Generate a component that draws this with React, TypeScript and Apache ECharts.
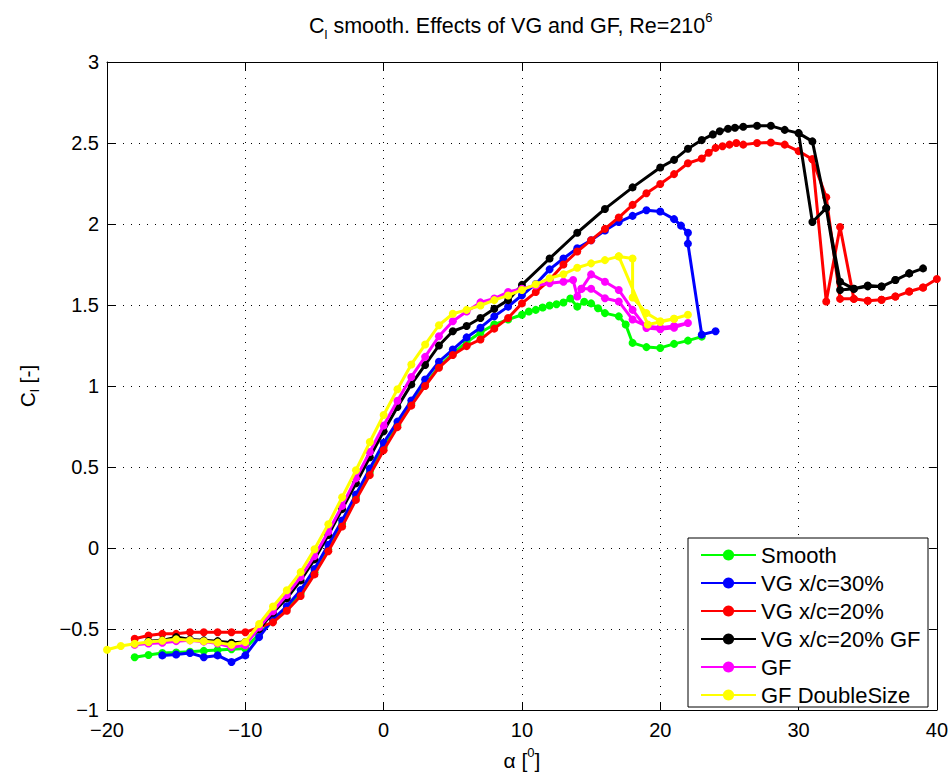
import React, { useEffect, useRef } from "react";
import * as echarts from "echarts";

const FF = "'Liberation Sans', Arial, Helvetica, sans-serif";

const seriesNames = ["Smooth", "VG x/c=30%", "VG x/c=20%", "VG x/c=20% GF", "GF", "GF DoubleSize"];
const seriesColors = ["#00ff00", "#0000ff", "#ff0000", "#000000", "#ff00ff", "#ffff00"];

const xTicks = { min: -20, max: 40, interval: 10 };
const yTicks = { min: -1, max: 3, interval: 0.5 };

const smooth: number[][] = [
  [-18, -0.674], [-17, -0.66], [-16, -0.648], [-15, -0.645], [-14, -0.64], [-13, -0.635], [-12, -0.63], [-11, -0.625], [-10, -0.62],
  [-9, -0.53], [-8, -0.45], [-7, -0.37], [-6, -0.28], [-5, -0.15], [-4, -0.01], [-3, 0.15], [-2, 0.31], [-1, 0.47], [0, 0.62],
  [1, 0.76], [2, 0.89], [3, 1.01], [4, 1.12], [5, 1.2], [6, 1.27], [7, 1.33], [8, 1.38], [9, 1.41], [10, 1.44], [10.5, 1.46],
  [11, 1.47], [11.5, 1.485], [12, 1.497], [12.5, 1.505], [13, 1.515], [13.5, 1.54], [14, 1.49], [14.5, 1.52], [15, 1.51],
  [15.5, 1.48], [16, 1.45], [17, 1.43], [17.5, 1.38], [18, 1.266], [19, 1.24], [20, 1.235], [21, 1.26], [22, 1.28], [23, 1.305],
];

const vg30: number[][] = [
  [-16, -0.663], [-15, -0.657], [-14, -0.648], [-13, -0.674], [-12, -0.663], [-11, -0.704], [-10, -0.663], [-9, -0.55],
  [-8, -0.44], [-7, -0.36], [-6, -0.26], [-5, -0.13], [-4, 0.02], [-3, 0.17], [-2, 0.33], [-1, 0.49], [0, 0.65], [1, 0.78],
  [2, 0.91], [3, 1.04], [4, 1.15], [5, 1.225], [6, 1.3], [7, 1.36], [8, 1.43], [9, 1.49], [10, 1.56], [11, 1.63], [12, 1.72],
  [13, 1.787], [14, 1.85], [15, 1.9], [16, 1.96], [17, 2.012], [18, 2.05], [19, 2.085], [20, 2.077], [21, 2.03], [21.5, 1.99],
  [22, 1.946], [22, 1.879], [23, 1.317], [24, 1.338],
];

const vg20: number[][] = [
  [-18, -0.56], [-17, -0.54], [-16, -0.53], [-15, -0.53], [-14, -0.52], [-13, -0.52], [-12, -0.52], [-11, -0.52], [-10, -0.52],
  [-9, -0.49], [-8, -0.459], [-7, -0.387], [-6, -0.296], [-5, -0.163], [-4, -0.02], [-3, 0.133], [-2, 0.297], [-1, 0.45],
  [0, 0.603], [1, 0.746], [2, 0.879], [3, 1.0], [4, 1.113], [5, 1.191], [6, 1.246], [7, 1.287], [8, 1.354], [9, 1.42],
  [10, 1.51], [11, 1.58], [12, 1.654], [13, 1.75], [14, 1.83], [15, 1.9], [16, 1.97], [17, 2.04], [18, 2.118], [19, 2.19],
  [20, 2.247], [21, 2.308], [22, 2.375], [23, 2.404], [23.5, 2.44], [24, 2.47], [24.5, 2.48], [25, 2.49], [25.5, 2.5],
  [26, 2.49], [27, 2.5], [28, 2.503], [29, 2.49], [30, 2.45], [31, 2.4], [32, 2.165], [33, 1.538], [34, 1.538], [35, 1.526],
  [36, 1.532], [37, 1.552], [38, 1.583], [39, 1.608], [40, 1.66], [39, 1.608], [38, 1.583], [37, 1.552], [36, 1.532],
  [35, 1.526], [34, 1.538], [33, 1.981], [32, 1.522], [31, 2.4],
];

const vg20gf: number[][] = [
  [-17, -0.575], [-16, -0.57], [-15, -0.55], [-14, -0.565], [-13, -0.57], [-12, -0.575], [-11, -0.585], [-10, -0.58],
  [-9, -0.5], [-8, -0.4], [-7, -0.31], [-6, -0.2], [-5, -0.07], [-4, 0.08], [-3, 0.24], [-2, 0.4], [-1, 0.56], [0, 0.72],
  [1, 0.87], [2, 1.01], [3, 1.13], [4, 1.25], [5, 1.338], [6, 1.37], [7, 1.42], [8, 1.477], [9, 1.53], [10, 1.624],
  [12, 1.787], [14, 1.946], [16, 2.093], [18, 2.226], [20, 2.349], [21, 2.396], [22, 2.465], [23, 2.518], [23.8, 2.553],
  [24.3, 2.573], [24.9, 2.588], [25.4, 2.594], [26, 2.6], [27, 2.606], [28, 2.606], [29, 2.581], [30, 2.561], [31, 2.51],
  [32, 2.098], [33, 1.644], [34, 1.6], [35, 1.62], [36, 1.614], [37, 1.654], [38, 1.695], [39, 1.726], [38, 1.695],
  [37, 1.654], [36, 1.614], [35, 1.615], [34, 1.6], [33, 1.593], [32, 2.098], [31, 2.012], [30, 2.561],
];

const gf: number[][] = [
  [-18, -0.597], [-17, -0.59], [-16, -0.585], [-15, -0.575], [-14, -0.57], [-13, -0.578], [-12, -0.59], [-11, -0.612],
  [-10, -0.6], [-9, -0.49], [-8, -0.39], [-7, -0.29], [-6, -0.18], [-5, -0.05], [-4, 0.1], [-3, 0.26], [-2, 0.43],
  [-1, 0.593], [0, 0.756], [1, 0.909], [2, 1.056], [3, 1.18], [4, 1.307], [5, 1.4], [6, 1.46], [7, 1.516], [8, 1.54],
  [9, 1.58], [10, 1.6], [11, 1.62], [12, 1.634], [13, 1.644], [13.7, 1.654], [14, 1.553], [14.3, 1.6], [15, 1.689],
  [16, 1.644], [17, 1.593], [18, 1.47], [19, 1.358], [20, 1.35], [21, 1.36], [22, 1.389], [21, 1.37], [20, 1.36],
  [19, 1.37], [18, 1.41], [17, 1.522], [16, 1.542], [15, 1.6], [14.3, 1.6],
];

const gfDouble: number[][] = [
  [-20, -0.628], [-19, -0.605], [-18, -0.591], [-17, -0.58], [-16, -0.572], [-15, -0.564], [-14, -0.57], [-13, -0.576],
  [-12, -0.584], [-11, -0.597], [-10, -0.58], [-9, -0.469], [-8, -0.361], [-7, -0.261], [-6, -0.149], [-5, -0.008],
  [-4, 0.147], [-3, 0.313], [-2, 0.48], [-1, 0.654], [0, 0.821], [1, 0.98], [2, 1.133], [3, 1.256], [4, 1.375],
  [5, 1.446], [6, 1.47], [7, 1.497], [8, 1.53], [9, 1.559], [10, 1.593], [11, 1.628], [12, 1.665], [13, 1.69],
  [14, 1.73], [15, 1.757], [16, 1.777], [17, 1.8], [18, 1.787], [18, 1.546], [19, 1.45], [20, 1.4], [21, 1.415],
  [22, 1.44], [21, 1.415], [20, 1.395], [19.1, 1.38], [17, 1.8],
];

const seriesData = [smooth, vg30, vg20, vg20gf, gf, gfDouble];

const minusFmt = (v: number) => (v < 0 ? "\u2212" + String(Math.abs(v)) : String(v));

export default function App() {
  const ref = useRef<HTMLDivElement>(null);
  useEffect(() => {
    if (!ref.current) return;
    const chart = echarts.init(ref.current, undefined, { renderer: "svg" });
    const axisCommon = {
      axisLine: { show: true, onZero: false, lineStyle: { color: "#000", width: 1 } },
      axisTick: { show: true, inside: true, length: 8, lineStyle: { color: "#000", width: 1 } },
    };
    chart.setOption({
      animation: false,
      backgroundColor: "#ffffff",
      title: {
        text: "C{sub|l} smooth. Effects of VG and GF, Re=210{sup|6}",
        left: 304,
        top: 6,
        textStyle: {
          fontFamily: FF,
          fontSize: 21.5,
          fontWeight: "normal",
          color: "#000",
          lineHeight: 30,
          rich: {
            sub: { fontFamily: FF, fontSize: 13, color: "#000", verticalAlign: "bottom", lineHeight: 30, padding: [10, 0, 0, 0] },
            sup: { fontFamily: FF, fontSize: 13, color: "#000", verticalAlign: "top", lineHeight: 30, padding: [0, 0, 10, 0] },
          },
        },
      },
      grid: { left: 107, top: 62, width: 830, height: 653, containLabel: false },
      graphic: [
        {
          type: "rect",
          z: 90,
          shape: { x: 688, y: 538, width: 240, height: 169 },
          style: { fill: "#ffffff", stroke: "#000000", lineWidth: 1 },
          silent: true,
        },
      ],
      legend: {
        data: seriesNames,
        orient: "vertical",
        left: 688,
        top: 538,
        z: 100,
        itemWidth: 55,
        itemHeight: 14,
        itemGap: 6,
        padding: [6, 8, 6, 12],
        backgroundColor: "transparent",
        borderWidth: 0,
        textStyle: { fontFamily: FF, fontSize: 22, color: "#000", lineHeight: 21 },
        selectedMode: false,
      },
      xAxis: [
        {
          type: "value",
          ...xTicks,
          position: "bottom",
          ...axisCommon,
          axisLabel: { color: "#000", fontFamily: FF, fontSize: 20, margin: 10, formatter: minusFmt },
          splitLine: { show: true, lineStyle: { color: "#000", width: 1, type: [1, 7] } },
          name: "\u03b1 [{sup|0}]",
          nameLocation: "middle",
          nameGap: 36,
          nameTextStyle: {
            fontFamily: FF,
            fontSize: 21,
            color: "#000",
            lineHeight: 28,
            rich: { sup: { fontFamily: FF, fontSize: 13, color: "#000", verticalAlign: "top", lineHeight: 28, padding: [0, 0, 8, 0] } },
          },
        },
        {
          type: "value",
          ...xTicks,
          position: "top",
          ...axisCommon,
          axisLabel: { show: false },
          splitLine: { show: false },
        },
      ],
      yAxis: [
        {
          type: "value",
          ...yTicks,
          position: "left",
          ...axisCommon,
          axisLabel: { color: "#000", fontFamily: FF, fontSize: 20, margin: 8, formatter: minusFmt },
          splitLine: { show: true, lineStyle: { color: "#000", width: 1, type: [1, 7] } },
          name: "C{sub|l} [-]",
          nameLocation: "middle",
          nameGap: 66,
          nameRotate: 90,
          nameTextStyle: {
            fontFamily: FF,
            fontSize: 21,
            color: "#000",
            lineHeight: 28,
            rich: { sub: { fontFamily: FF, fontSize: 13, color: "#000", verticalAlign: "bottom", lineHeight: 28, padding: [8, 0, 0, 0] } },
          },
        },
        {
          type: "value",
          ...yTicks,
          position: "right",
          ...axisCommon,
          axisLabel: { show: false },
          splitLine: { show: false },
        },
      ],
      series: seriesData.map((d, i) => ({
        name: seriesNames[i],
        type: "line",
        data: d,
        xAxisIndex: 0,
        yAxisIndex: 0,
        symbol: "circle",
        symbolSize: 8,
        showSymbol: true,
        showAllSymbol: true,
        lineStyle: { width: 3, color: seriesColors[i] },
        itemStyle: { color: seriesColors[i] },
        emphasis: { disabled: true },
        z: 2 + i,
        clip: true,
      })),
    });
    return () => chart.dispose();
  }, []);
  return <div ref={ref} style={{ position: "absolute", left: 0, top: 0, width: 951, height: 779 }} />;
}
